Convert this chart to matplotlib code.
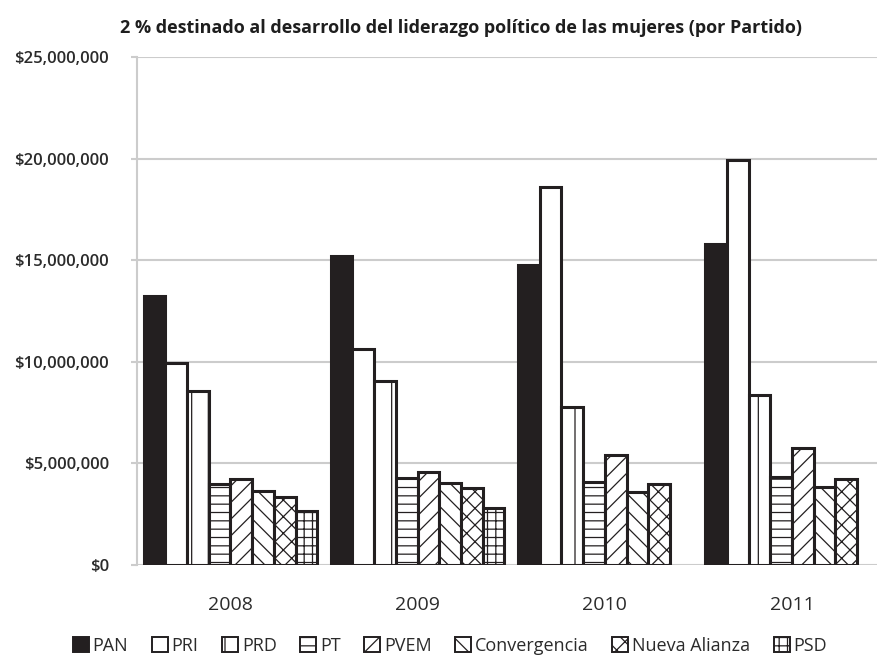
import numpy as np
import matplotlib
matplotlib.use("Agg")
import matplotlib.pyplot as plt
from matplotlib.patches import Patch
from matplotlib.ticker import FuncFormatter

plt.rcParams['font.family'] = ['Open Sans', 'DejaVu Sans']
plt.rcParams['hatch.linewidth'] = 0.9

years = ['2008', '2009', '2010', '2011']
parties = ['PAN', 'PRI', 'PRD', 'PT', 'PVEM', 'Convergencia', 'Nueva Alianza', 'PSD']

# monto por partido y año (pesos); PSD sin datos en 2010 y 2011
pan = [13250000, 15200000, 14780000, 15810000]
pri = [9950000, 10640000, 18620000, 19950000]
prd = [8570000, 9060000, 7780000, 8370000]
pt = [3990000, 4290000, 4090000, 4330000]
pvem = [4240000, 4580000, 5420000, 5760000]
conv = [3640000, 4040000, 3600000, 3840000]
nueva = [3350000, 3790000, 3990000, 4240000]
psd = [2660000, 2810000, np.nan, np.nan]

series = [pan, pri, prd, pt, pvem, conv, nueva, psd]
colors = ['#231f20', 'white', 'white', 'white', 'white', 'white', 'white', 'white']
hatches = [None, None, '|', '--', '//', '\\\\', 'xx', '++']
text_col = '#2b2b2b'

fig = plt.figure(figsize=(8.77, 6.58), dpi=100)
ax = fig.add_axes([0.156, 0.1413, 0.844, 0.7721])

x = np.arange(len(years))
w = 0.116
for i, vals in enumerate(series):
    pos = x + (i - 3.5) * w
    v = np.array(vals, dtype=float)
    ok = ~np.isnan(v)
    ax.bar(pos[ok], v[ok], width=w, color=colors[i], edgecolor='#231f20',
           linewidth=2.2, hatch=hatches[i], zorder=3)

ax.set_ylim(0, 25000000)
ax.set_xlim(-0.5, 3.454)
ax.set_yticks(np.arange(0, 25000001, 5000000))
ax.yaxis.set_major_formatter(FuncFormatter(lambda v, p: '${:,.0f}'.format(v)))
ax.set_xticks(x)
ax.set_xticklabels(years)
ax.grid(axis='y', color='#cccccc', linewidth=1.5, zorder=0)
for s in ['top', 'right', 'bottom']:
    ax.spines[s].set_visible(False)
ax.spines['left'].set_color('#cccccc')
ax.spines['left'].set_linewidth(1.5)
ax.tick_params(axis='y', length=4, color='#cccccc', width=1.5, labelsize=12,
               labelcolor=text_col, pad=16)
ax.tick_params(axis='x', length=0, labelsize=14, labelcolor=text_col, pad=22)
for lab in ax.get_yticklabels():
    lab.set_fontweight('semibold')

fig.text(0.526, 0.958, '2 % destinado al desarrollo del liderazgo político de las mujeres (por Partido)',
         ha='center', va='center', fontsize=13, fontweight='bold', color='#1e1e1e')

handles = [Patch(facecolor=colors[i], edgecolor='#231f20', hatch=hatches[i], linewidth=1.4)
           for i in range(len(parties))]
fig.legend(handles, parties, loc='center', bbox_to_anchor=(0.513, 0.018), ncol=8,
           frameon=False, fontsize=13, handlelength=0.9, handleheight=0.9,
           handletextpad=0.2, columnspacing=1.3, labelcolor=text_col)

fig.savefig('out.png', dpi=100)
